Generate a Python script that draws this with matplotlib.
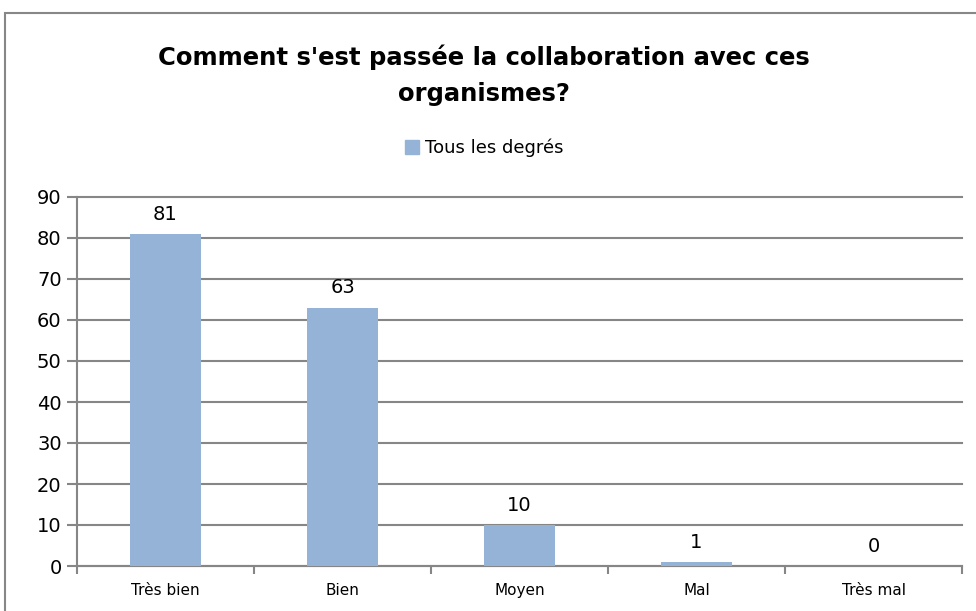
import numpy as np
import matplotlib.pyplot as plt
from matplotlib.patches import Rectangle, Patch

categories = ["Très bien", "Bien", "Moyen", "Mal", "Très mal"]
values = [81, 63, 10, 1, 0]
series_name = "Tous les degrés"
title = "Comment s'est passée la collaboration avec ces\norganismes?"

W, H = 976, 611
fig = plt.figure(figsize=(W / 100, H / 100), dpi=100)
plt.rcParams['font.family'] = ['DejaVu Sans']

# outer chart border
fig.patches.append(Rectangle((5 / W, -0.05), 1.1, 1 - 13 / H + 0.05,
                             transform=fig.transFigure, fill=False,
                             edgecolor='#878787', linewidth=1.5))

left, right, top, bottom = 77, 962, 197, 566
ax = fig.add_axes([left / W, 1 - bottom / H, (right - left) / W, (bottom - top) / H])

x = np.arange(len(categories))
ax.bar(x, values, width=0.4, color='#95B3D7', zorder=3)
for xi, v in zip(x, values):
    ax.text(xi, v + 2.5, str(v), ha='center', va='bottom', fontsize=14)

ax.set_xlim(-0.5, len(categories) - 0.5)
ax.set_ylim(0, 90)
ax.set_yticks(range(0, 91, 10))
ax.yaxis.grid(True, color='#868686', linewidth=1.5, zorder=0)
for gl in ax.get_ygridlines():
    gl.set_clip_on(False)
ax.tick_params(axis='y', labelsize=14, length=7, width=1.5, color='#868686', direction='out', pad=4)

ax.set_xticks(x)
ax.set_xticklabels(categories, fontsize=11)
ax.set_xticks(np.arange(-0.5, len(categories)), minor=True)
ax.tick_params(axis='x', which='major', length=0, pad=12)
ax.tick_params(axis='x', which='minor', length=6, width=1.5, color='#868686')

for s in ['top', 'right']:
    ax.spines[s].set_visible(False)
for s in ['left', 'bottom']:
    ax.spines[s].set_color('#868686')
    ax.spines[s].set_linewidth(1.5)

fig.text(484 / W, 1 - 75 / H, title, ha='center', va='center', fontsize=17.5,
         fontweight='bold', linespacing=1.65)
fig.legend(handles=[Patch(color='#95B3D7', label=series_name)],
           loc='center', bbox_to_anchor=(484 / W, 1 - 148 / H), frameon=False,
           fontsize=13, handlelength=0.8, handleheight=0.8, handletextpad=0.3)

fig.savefig('out.png', dpi=100)
